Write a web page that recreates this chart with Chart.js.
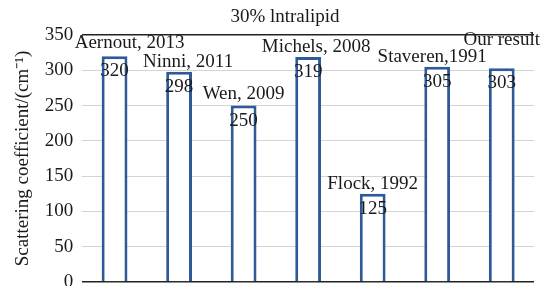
<!DOCTYPE html>
<html>
<head>
<meta charset="utf-8">
<script src="https://cdn.jsdelivr.net/npm/chart.js@4/dist/chart.umd.min.js"></script>
<style>
  html, body { margin: 0; padding: 0; background: #fff; }
</style>
</head>
<body>
<canvas id="myChart" width="551" height="286"></canvas>
<script>
const studies = ["Aernout, 2013", "Ninni, 2011", "Wen, 2009", "Michels, 2008", "Flock, 1992", "Staveren,1991", "Our result"];
const scattering = [320, 298, 250, 319, 125, 305, 303];
const yTicks = [0, 50, 100, 150, 200, 250, 300, 350];
const chartTitle = '30% lntralipid';

const barColor = '#2f5a97';
const textFont = '"Liberation Serif", "Times New Roman", serif';

// title, name above each bar, value just inside the top of the bar
const barLabels = {
    id: 'barLabels',
    afterDatasetsDraw(chart) {
        const ctx = chart.ctx;
        const meta = chart.getDatasetMeta(0);
        // small nudges so names don't collide (like the original figure)
        const nameShift = [[15, -3], [9, 0], [0, -2], [8, 0], [0, 0], [-5, 0], [0, -18]];
        ctx.save();
        ctx.fillStyle = '#1a1a1a';
        ctx.font = '19px ' + textFont;
        ctx.textAlign = 'center';
        ctx.textBaseline = 'middle';
        ctx.fillText(chartTitle, 285, 17);
        meta.data.forEach((bar, i) => {
            ctx.textBaseline = 'alphabetic';
            ctx.fillText(studies[i], bar.x + nameShift[i][0], bar.y - 5 + nameShift[i][1]);
            ctx.textBaseline = 'middle';
            ctx.fillText(String(scattering[i]), bar.x, bar.y + 15);
        });
        ctx.restore();
    }
};

const ctx = document.getElementById('myChart').getContext('2d');
const myChart = new Chart(ctx, {
    type: 'bar',
    data: {
        labels: studies,
        datasets: [{
            label: 'Scattering coefficient',
            data: scattering,
            backgroundColor: '#ffffff',
            borderColor: barColor,
            borderWidth: 3,
            borderSkipped: 'start',
            barPercentage: 0.4,
            categoryPercentage: 1
        }]
    },
    options: {
        responsive: false,
        animation: false,
        layout: {
            padding: { left: 10, right: 17, top: 35, bottom: 4 }
        },
        plugins: {
            legend: { display: false },
            tooltip: { enabled: false },
            title: { display: false }
        },
        scales: {
            x: {
                display: false
            },
            y: {
                min: 0,
                max: 350,
                afterBuildTicks: axis => { axis.ticks = yTicks.map(v => ({ value: v })); },
                // labels may stick out of the plot area, the layout padding handles it
                afterFit: axis => { axis.paddingTop = 0; axis.paddingBottom = 0; },
                ticks: {
                    color: '#1a1a1a',
                    padding: 9,
                    font: { family: textFont, size: 19 }
                },
                grid: {
                    drawTicks: false,
                    color: c => (c.tick && (c.tick.value === 350 || c.tick.value === 0)) ? '#222' : '#d4d4d4',
                    lineWidth: c => (c.tick && (c.tick.value === 350 || c.tick.value === 0)) ? 1.5 : 1
                },
                border: { display: false },
                title: {
                    display: true,
                    text: 'Scattering coefficient/(cm⁻¹)',
                    color: '#1a1a1a',
                    font: { family: textFont, size: 19 },
                    padding: { top: 2, bottom: 1 }
                }
            }
        }
    },
    plugins: [barLabels]
});
</script>
</body>
</html>
